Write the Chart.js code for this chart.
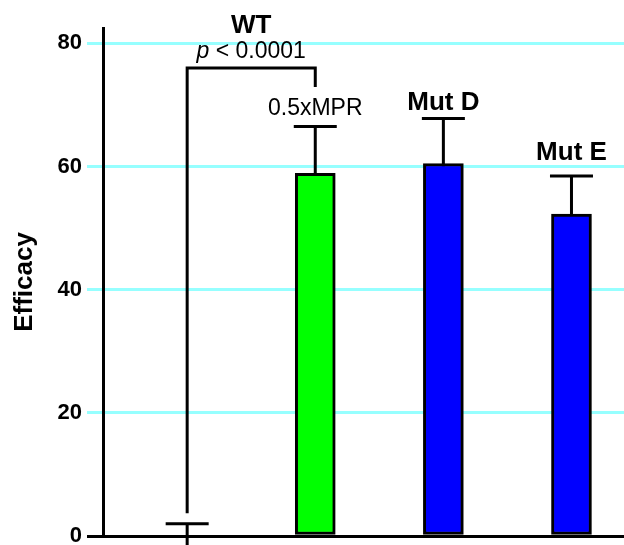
<!DOCTYPE html>
<html>
<head>
<meta charset="utf-8">
<script src="https://cdn.jsdelivr.net/npm/chart.js@4.4.0/dist/chart.umd.min.js"></script>
<style>
html,body{margin:0;padding:0;background:#fff}
#wrap{width:624px;height:545px}
</style>
</head>
<body>
<div id="wrap"><canvas id="efficacyChart"></canvas></div>
<script>
// values
const categories = ['WT', '0.5xMPR', 'Mut D', 'Mut E'];
const efficacy = [0, 58.9, 60.5, 52.3];
const errors = [2.0, 7.6, 7.3, 6.15];
const yTicks = [0, 20, 40, 60, 80];
const pValue = '< 0.0001';

Chart.defaults.font.family = '"Liberation Sans", Arial, sans-serif';
Chart.defaults.color = '#000';

// error bars drawn before the bars so the lower half hides behind them
const errorBars = {
  id: 'errorBars',
  beforeDatasetsDraw(chart) {
    const {ctx, scales: {x, y}} = chart;
    ctx.save();
    ctx.strokeStyle = '#000';
    ctx.lineWidth = 3;
    efficacy.forEach((v, i) => {
      const px = x.getPixelForValue(i);
      const top = y.getPixelForValue(v + errors[i]);
      const bot = y.getPixelForValue(v - errors[i]);
      ctx.beginPath();
      ctx.moveTo(px, bot);
      ctx.lineTo(px, top);
      ctx.moveTo(px - 21.5, top);
      ctx.lineTo(px + 21.5, top);
      ctx.stroke();
    });
    ctx.restore();
  }
};

// bracket, p value and group names
const annotations = {
  id: 'annotations',
  afterDatasetsDraw(chart) {
    const {ctx, scales: {x, y}} = chart;
    ctx.save();
    ctx.strokeStyle = '#000';
    ctx.lineWidth = 3;
    const x0 = x.getPixelForValue(0);
    const x1 = x.getPixelForValue(1);
    const yTop = y.getPixelForValue(76.0);
    ctx.beginPath();
    ctx.moveTo(x0, y.getPixelForValue(3.7));
    ctx.lineTo(x0, yTop);
    ctx.lineTo(x1, yTop);
    ctx.lineTo(x1, y.getPixelForValue(72.9));
    ctx.stroke();

    ctx.fillStyle = '#000';
    ctx.textBaseline = 'alphabetic';

    // p value, italic p
    const mid = x.getPixelForValue(0.5);
    const pb = y.getPixelForValue(77.6);
    ctx.font = 'italic 23px "Liberation Sans", Arial, sans-serif';
    const w1 = ctx.measureText('p ').width;
    ctx.font = '23px "Liberation Sans", Arial, sans-serif';
    const w2 = ctx.measureText(pValue).width;
    let sx = mid - (w1 + w2) / 2;
    ctx.textAlign = 'left';
    ctx.font = 'italic 23px "Liberation Sans", Arial, sans-serif';
    ctx.fillText('p', sx, pb);
    ctx.font = '23px "Liberation Sans", Arial, sans-serif';
    ctx.fillText(pValue, sx + w1, pb);

    const spots = [
      {at: 0.5, v: 81.7, font: 'bold 26px'},
      {at: 1, v: 68.4, font: '23px'},
      {at: 2, v: 69.2, font: 'bold 26px'},
      {at: 3, v: 61.0, font: 'bold 26px'}
    ];
    ctx.textAlign = 'center';
    categories.forEach((name, i) => {
      const s = spots[i];
      ctx.font = s.font + ' "Liberation Sans", Arial, sans-serif';
      ctx.fillText(name, x.getPixelForValue(s.at), y.getPixelForValue(s.v));
    });
    ctx.restore();
  }
};

new Chart(document.getElementById('efficacyChart'), {
  type: 'bar',
  data: {
    datasets: [{
      data: efficacy.map((v, i) => ({x: i, y: v})),
      backgroundColor: ['#00ff00', '#00ff00', '#0000ff', '#0000ff'],
      borderColor: '#000',
      borderWidth: 3,
      borderSkipped: false,
      barThickness: 40
    }]
  },
  options: {
    responsive: true,
    maintainAspectRatio: false,
    animation: false,
    layout: {padding: {top: 28, right: 0, bottom: 9, left: 0}},
    plugins: {
      legend: {display: false},
      tooltip: {enabled: false}
    },
    scales: {
      x: {
        type: 'linear',
        min: -0.657,
        max: 3.41,
        offset: false,
        display: false
      },
      y: {
        min: 0,
        max: 82.5,
        afterBuildTicks: axis => { axis.ticks = yTicks.map(v => ({value: v})); },
        afterFit: axis => {
          axis.width = 103;
          axis.paddingTop = 0;
          axis.paddingBottom = 0;
        },
        ticks: {
          padding: 5,
          font: {size: 22, weight: 'bold'},
          color: '#000'
        },
        grid: {
          color: c => (c.tick && c.tick.value === 0 ? '#000' : '#96ffff'),
          lineWidth: 3,
          tickLength: 16
        },
        border: {display: true, color: '#000', width: 3},
        title: {
          display: true,
          text: 'Efficacy',
          color: '#000',
          font: {size: 26, weight: 'bold', lineHeight: 1},
          padding: {top: 12, bottom: 0}
        }
      }
    }
  },
  plugins: [errorBars, annotations]
});
</script>
</body>
</html>
